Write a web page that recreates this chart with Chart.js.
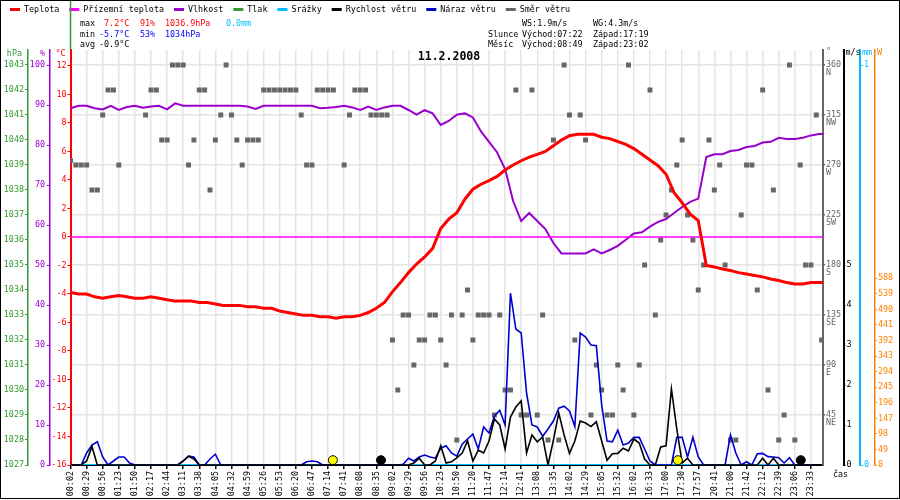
<!DOCTYPE html>
<html>
<head>
<meta charset="utf-8">
<title>Meteo 11.2.2008</title>
<script src="https://cdn.jsdelivr.net/npm/chart.js"></script>
<style>
  html, body { margin: 0; padding: 0; background: #fff; }
  canvas { display: block; }
</style>
</head>
<body>
<canvas id="meteoGraf" width="900" height="500"></canvas>
<script>
// casy zaznamu na ose x
const casy = ['00:02','00:29','00:56','01:23','01:50','02:17','02:44','03:11','03:38','04:05',
  '04:32','04:59','05:26','05:53','06:20','06:47','07:14','07:41','08:08','08:35',
  '09:02','09:29','09:56','10:23','10:50','11:20','11:47','12:14','12:41','13:08',
  '13:35','14:02','14:29','15:05','15:32','16:02','16:33','17:00','17:30','17:57',
  '20:41','21:00','21:42','22:12','22:39','23:06','23:33'];

// teplota, prizemni teplota a vlhkost - krok 1/2 intervalu popisku
const teplota = [-3.9,-4.0,-4.0,-4.2,-4.3,-4.2,-4.1,-4.2,-4.3,-4.3,
  -4.2,-4.3,-4.4,-4.5,-4.5,-4.5,-4.6,-4.6,-4.7,-4.8,
  -4.8,-4.8,-4.9,-4.9,-5.0,-5.0,-5.2,-5.3,-5.4,-5.5,
  -5.5,-5.6,-5.6,-5.7,-5.6,-5.6,-5.5,-5.3,-5.0,-4.6,
  -3.85,-3.2,-2.5,-1.9,-1.4,-0.8,0.6,1.25,1.7,2.65,
  3.35,3.7,3.95,4.25,4.7,5.05,5.35,5.6,5.8,6.0,
  6.4,6.8,7.1,7.2,7.2,7.2,7.0,6.9,6.7,6.5,
  6.2,5.8,5.4,5.0,4.4,3.1,2.4,1.6,1.15,-2.0,
  -2.1,-2.25,-2.35,-2.5,-2.6,-2.7,-2.8,-2.95,-3.05,-3.2,
  -3.3,-3.3,-3.2,-3.2,-3.2];

const prizemniTeplota = [0,0,0,0,0,0,0,0,0,0, 0,0,0,0,0,0,0,0,0,0,
  0,0,0,0,0,0,0,0,0,0, 0,0,0,0,0,0,0,0,0,0,
  0,0,0,0,0,0,0,0,0,0, 0,0,0,0,0,0,0,0,0,0,
  0,0,0,0,0,0,0,0,0,0, 0,0,0,0,0,0,0,0,0,0,
  0,0,0,0,0,0,0,0,0,0, 0,0,0,0,0];

const vlhkost = [89.2,89.8,89.8,89.2,88.9,89.8,88.75,89.5,89.8,89.3,
  89.6,89.8,88.9,90.4,89.8,89.8,89.8,89.8,89.8,89.8,
  89.8,89.8,89.6,89.0,89.8,89.8,89.8,89.8,89.8,89.8,
  89.8,89.2,89.3,89.5,89.8,89.4,88.75,89.6,88.75,89.4,
  89.8,89.8,88.75,87.6,88.7,87.9,85.0,86.0,87.6,87.9,
  86.9,83.4,80.8,78.2,74.0,66.0,61.0,63.0,61.0,59.0,
  55.5,52.9,52.9,52.9,52.9,53.9,52.9,53.75,54.8,56.3,
  57.9,58.2,59.6,60.8,61.5,63.0,64.5,65.8,66.6,77.0,
  77.7,77.7,78.5,78.75,79.5,79.75,80.6,80.8,81.8,81.5,
  81.5,81.8,82.4,82.75,82.75];

// srazky - krok 1 interval
const srazky = [0,0,0,0,0,0,0,0,0,0, 0,0,0,0,0,0,0,0,0,0,
  0,0,0,0,0,0,0,0,0,0, 0,0,0,0,0,0,0,0,0,0, 0,0,0,0,0,0,0];

// vitr - krok 1/3 intervalu
const rychlostVetru = [0,0,0,0.1,0.46,0,0,0,0,0,
  0,0,0,0,0,0,0,0,0,0,
  0,0.1,0.22,0.15,0,0,0,0,0,0,
  0,0,0,0,0,0,0,0,0,0,
  0,0,0,0,0,0,0,0,0,0,
  0,0,0,0,0,0,0,0,0,0,
  0,0,0,0,0.05,0.17,0,0,0.1,0.48,
  0.05,0.08,0.18,0.3,0.6,0.1,0.37,0.3,0.6,1.15,
  1.0,0.4,1.2,1.45,1.6,0.3,0.75,0.58,0.7,0,
  0.62,1.3,0.75,0.29,0.6,1.1,1.05,0.96,1.08,0.6,
  0.12,0.28,0.29,0.42,0.35,0.65,0.55,0.15,0,0,
  0.45,0.48,1.9,0.9,0.05,0.17,0,0,0,0,
  0,0,0,0,0,0,0,0,0,0.17,
  0,0.17,0,0,0,0,0,0,0,0,
  0];

const narazVetru = [0,0,0,0.3,0.5,0.58,0.2,0,0.1,0.2,
  0.2,0.05,0,0,0,0,0,0,0,0,
  0,0.1,0.22,0.2,0,0,0.15,0.27,0,0,
  0,0,0,0,0,0,0,0,0,0,
  0,0,0,0,0.08,0.1,0.08,0,0,0,
  0,0,0,0,0,0,0,0,0,0,
  0,0,0.02,0.17,0.1,0.2,0.25,0.2,0.17,0.42,
  0.48,0.3,0.22,0.52,0.65,0.77,0.4,0.95,0.8,1.22,
  1.37,1.0,4.3,3.4,3.3,1.8,1.0,0.95,0.72,0.9,
  1.1,1.42,1.47,1.35,0.96,3.3,3.2,3.0,2.98,1.5,
  0.6,0.58,0.87,0.5,0.55,0.69,0.69,0.4,0.1,0,
  0,0,0,0.69,0.69,0.2,0.69,0.2,0,0,
  0,0,0,0.75,0.3,0,0.08,0,0.28,0.29,
  0.21,0.2,0.18,0.05,0.18,0,0,0,0,0,
  0];

const smerVetru = [274,270,270,270,247.5,247.5,315,337.5,337.5,270,
  null,null,null,null,315,337.5,337.5,292.5,292.5,360,
  360,360,270,292.5,337.5,337.5,247.5,292.5,315,360,
  315,292.5,270,292.5,292.5,292.5,337.5,337.5,337.5,337.5,
  337.5,337.5,337.5,315,270,270,337.5,337.5,337.5,337.5,
  null,270,315,337.5,337.5,337.5,315,315,315,315,
  112.5,67.5,135,135,90,112.5,112.5,135,135,112.5,
  90,135,22.5,135,157.5,112.5,135,135,135,45,
  135,67.5,67.5,337.5,45,45,337.5,45,135,22.5,
  292.5,22.5,360,315,112.5,315,292.5,45,90,67.5,
  45,45,90,67.5,360,45,90,180,337.5,135,
  202.5,225,247.5,270,292.5,225,202.5,157.5,180,292.5,
  247.5,270,180,22.5,22.5,225,270,270,157.5,337.5,
  67.5,247.5,22.5,45,360,22.5,270,180,180,315,
  112.5];

// vychod / zapad slunce a mesice (pozice na ose x)
const slunceX = [16.3, 37.73];
const mesicX = [19.29, 45.37];
const urovenZnacky = 0.12;

// popisky os
const tlakTicks = [1027,1028,1029,1030,1031,1032,1033,1034,1035,1036,1037,1038,1039,1040,1041,1042,1043];
const vlhkostTicks = [0,10,20,30,40,50,60,70,80,90,100];
const teplotaTicks = [-16,-14,-12,-10,-8,-6,-4,-2,0,2,4,6,8,10,12];
const smerTicks = [45,90,135,180,225,270,315,360];
const smerNazvy = ['NE','E','SE','S','SW','W','NW','N'];
const vitrTicks = [0,1,2,3,4,5];
const srazkyTicks = [0,1];
const zareniTicks = [0,49,98,147,196,245,294,343,392,441,490,539,588];

// texty hlavicky
const datum = '11.2.2008';
const statMax = { teplota: ' 7.2°C', vlhkost: '91%', tlak: '1036.9hPa', srazky: '0.0mm' };
const statMin = { teplota: '-5.7°C', vlhkost: '53%', tlak: '1034hPa' };
const statAvg = '-0.9°C';
const vitrInfo = ['WS:1.9m/s', 'WG:4.3m/s'];
const slunceInfo = ['Slunce', 'Východ:07:22', 'Západ:17:19'];
const mesicInfo = ['Měsíc', 'Východ:08:49', 'Západ:23:02'];

const FONT = '"DejaVu Sans Mono", "Liberation Mono", monospace';
Chart.defaults.font.family = FONT;
Chart.defaults.font.size = 8.4;
Chart.defaults.color = '#000';

function body(values, step) {
    return values.map((v, i) => ({ x: i * step, y: v }));
}
const sirka = w => s => { s.width = w; };
const popisky = arr => s => { s.ticks = arr.map(v => ({ value: v })); };
const cislo = v => String(v);

// hlavicka, legenda, jednotky os, ramecek
const hlavicka = {
    id: 'hlavicka',
    afterDraw(chart) {
        const { ctx, chartArea, scales } = chart;
        ctx.save();
        ctx.textBaseline = 'middle';
        ctx.font = '8.4px ' + FONT;

        let x = 10;
        chart.data.datasets.forEach(ds => {
            if (ds.skryt) return;
            ctx.strokeStyle = ds.borderColor;
            ctx.lineWidth = 3;
            ctx.beginPath();
            ctx.moveTo(x, 9.5);
            ctx.lineTo(x + 10, 9.5);
            ctx.stroke();
            ctx.fillStyle = '#000';
            ctx.textAlign = 'left';
            ctx.fillText(ds.label, x + 14, 10);
            x += 24 + ctx.measureText(ds.label).width;
        });

        const txt = (s, tx, ty, c) => { ctx.fillStyle = c; ctx.fillText(s, tx, ty); };
        txt('max', 80, 24, '#000');
        txt(statMax.teplota, 99, 24, '#ff0000');
        txt(statMax.vlhkost, 140, 24, '#ff0000');
        txt(statMax.tlak, 165, 24, '#ff0000');
        txt(statMax.srazky, 226, 24, '#00bfff');
        txt('min', 80, 34.5, '#000');
        txt(statMin.teplota, 99, 34.5, '#0000ff');
        txt(statMin.vlhkost, 140, 34.5, '#0000ff');
        txt(statMin.tlak, 165, 34.5, '#0000ff');
        txt('avg', 80, 45, '#000');
        txt(statAvg, 99, 45, '#000');

        txt(vitrInfo[0], 522, 24, '#000');
        txt(vitrInfo[1], 593, 24, '#000');
        [slunceInfo, mesicInfo].forEach((r, i) => {
            const ty = 34.5 + i * 10;
            txt(r[0], 488, ty, '#000');
            txt(r[1], 522, ty, '#000');
            txt(r[2], 593, ty, '#000');
        });

        // jednotky
        ctx.textAlign = 'right';
        txt('hPa', scales.yP.right - 6, 54, '#339933');
        txt('%', scales.yH.right - 5, 54, '#9900cc');
        txt('°C', scales.yT.right - 5, 54, '#ff0000');
        ctx.textAlign = 'left';
        txt('°', scales.yD.left + 3, 52, '#666666');
        txt('m/s', scales.yW.left + 2, 53, '#000');
        txt('mm', scales.yR.left + 2, 53, '#00bfff');
        txt('W', scales.yS.left + 2, 53, '#ff8000');
        txt('čas', 833, 475, '#000');

        ctx.font = 'bold 11.5px ' + FONT;
        ctx.textAlign = 'center';
        txt(datum, 449, 57.5, '#000');

        ctx.strokeStyle = '#339933';
        ctx.lineWidth = 1.5;
        ctx.beginPath();
        ctx.moveTo(chartArea.left, 0);
        ctx.lineTo(chartArea.left, chartArea.top);
        ctx.stroke();

        ctx.strokeStyle = '#000';
        ctx.lineWidth = 1;
        ctx.strokeRect(0.5, 0.5, 899, 498);
        ctx.restore();
    }
};

new Chart(document.getElementById('meteoGraf'), {
    type: 'line',
    data: {
        datasets: [
            { label: 'Teplota', data: body(teplota, 0.5), yAxisID: 'yT',
              borderColor: '#ff0000', borderWidth: 3, order: 3 },
            { label: 'Přízemní teplota', data: body(prizemniTeplota, 0.5), yAxisID: 'yT',
              borderColor: '#ff00ff', borderWidth: 1.5, order: 4 },
            { label: 'Vlhkost', data: body(vlhkost, 0.5), yAxisID: 'yH',
              borderColor: '#9900cc', borderWidth: 2, order: 5 },
            { label: 'Tlak', data: [], yAxisID: 'yP',
              borderColor: '#339933', borderWidth: 2, order: 6 },
            { label: 'Srážky', data: body(srazky, 1), yAxisID: 'yR',
              borderColor: '#00bfff', borderWidth: 2, order: 2 },
            { label: 'Rychlost větru', data: body(rychlostVetru, 1 / 3), yAxisID: 'yW',
              borderColor: '#000000', borderWidth: 1.6, order: 0 },
            { label: 'Náraz větru', data: body(narazVetru, 1 / 3), yAxisID: 'yW',
              borderColor: '#0000cc', borderWidth: 1.6, order: 1 },
            { label: 'Směr větru', data: body(smerVetru, 1 / 3), yAxisID: 'yD',
              borderColor: '#666666', backgroundColor: '#666666', showLine: false,
              pointStyle: 'rect', pointRadius: 3.5, pointBorderWidth: 0, order: 7 },
            { label: 'Slunce', skryt: true, data: slunceX.map(x => ({ x, y: urovenZnacky })), yAxisID: 'yW',
              showLine: false, pointRadius: 4.5, pointBackgroundColor: '#ffff00',
              pointBorderColor: '#000', pointBorderWidth: 1, order: -1 },
            { label: 'Měsíc', skryt: true, data: mesicX.map(x => ({ x, y: urovenZnacky })), yAxisID: 'yW',
              showLine: false, pointRadius: 4.5, pointBackgroundColor: '#000',
              pointBorderColor: '#000', pointBorderWidth: 1, order: -1 }
        ]
    },
    options: {
        responsive: false,
        animation: false,
        devicePixelRatio: 1,
        events: [],
        layout: { padding: { top: 50, left: 0, right: 0, bottom: 0 } },
        elements: {
            line: { tension: 0, fill: false },
            point: { radius: 0 }
        },
        plugins: { legend: { display: false }, tooltip: { enabled: false } },
        scales: {
            x: {
                type: 'linear', position: 'bottom', min: 0, max: 46.75,
                afterBuildTicks: s => { s.ticks = casy.map((_, i) => ({ value: i })); },
                afterFit: s => { s.height = 35; },
                ticks: { autoSkip: false, maxRotation: 90, minRotation: 90, padding: 2,
                         color: '#000', callback: v => casy[v] || '' },
                grid: { color: '#e4e4e4', lineWidth: 1.5, tickColor: '#000', tickLength: 4 },
                border: { color: '#000', width: 2 }
            },
            yT: {
                position: 'left', weight: 0, min: -16, max: 13.12,
                afterBuildTicks: popisky(teplotaTicks), afterFit: sirka(20.5),
                ticks: { color: '#ff0000', padding: 1, callback: cislo },
                grid: { drawOnChartArea: false, tickLength: 3, tickColor: '#ff0000' },
                border: { color: '#ff0000', width: 2 }
            },
            yH: {
                position: 'left', weight: 1, min: 0, max: 103.75,
                afterBuildTicks: popisky(vlhkostTicks), afterFit: sirka(22),
                ticks: { color: '#9900cc', padding: 2, callback: cislo },
                grid: { drawOnChartArea: false, tickLength: 3, tickColor: '#9900cc' },
                border: { color: '#9900cc', width: 1.5 }
            },
            yP: {
                position: 'left', weight: 2, min: 1027, max: 1043.6,
                afterBuildTicks: popisky(tlakTicks), afterFit: sirka(28),
                ticks: { color: '#339933', padding: 1, callback: cislo },
                grid: { drawOnChartArea: false, tickLength: 3, tickColor: '#339933' },
                border: { color: '#339933', width: 1.5 }
            },
            yD: {
                position: 'right', weight: 0, min: 0, max: 373.5,
                afterBuildTicks: popisky(smerTicks), afterFit: sirka(20.5),
                ticks: { color: '#666666', padding: 1, font: { lineHeight: 0.95 },
                         callback: v => ['', String(v), smerNazvy[smerTicks.indexOf(v)]] },
                grid: { color: '#e4e4e4', lineWidth: 1.5, tickColor: '#666666', tickLength: 2 },
                border: { color: '#666666', width: 2 }
            },
            yW: {
                position: 'right', weight: 1, min: 0, max: 10.375,
                afterBuildTicks: popisky(vitrTicks), afterFit: sirka(16.5),
                ticks: { color: '#000', padding: 1, callback: cislo },
                grid: { drawOnChartArea: false, tickLength: 2, tickColor: '#000' },
                border: { color: '#000', width: 2 }
            },
            yR: {
                position: 'right', weight: 2, min: 0, max: 1.0375,
                afterBuildTicks: popisky(srazkyTicks), afterFit: sirka(15),
                ticks: { color: '#00bfff', padding: 1, callback: cislo },
                grid: { drawOnChartArea: false, tickLength: 3, tickColor: '#00bfff' },
                border: { color: '#00bfff', width: 2 }
            },
            yS: {
                position: 'right', weight: 3, min: 0, max: 1307,
                afterBuildTicks: popisky(zareniTicks), afterFit: sirka(25),
                ticks: { color: '#ff8000', padding: 1, callback: cislo },
                grid: { drawOnChartArea: false, tickLength: 2, tickColor: '#ff8000' },
                border: { color: '#ff8000', width: 1.5 }
            }
        }
    },
    plugins: [hlavicka]
});
</script>
</body>
</html>
